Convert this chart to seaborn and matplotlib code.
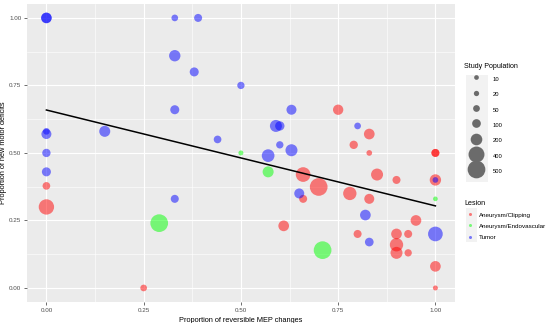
import matplotlib
matplotlib.use("Agg")
import matplotlib.pyplot as plt
from matplotlib.lines import Line2D
from matplotlib.patches import Rectangle
import numpy as np
import pandas as pd
import seaborn as sns

# ---------------- data ----------------
clip_x = [0.00, 0.00, 0.25, 0.75, 0.79, 0.83, 0.83, 1.00, 1.00, 0.66, 0.70, 0.78, 0.66,
          0.85, 0.90, 1.00, 0.83, 0.95, 0.61, 0.80, 0.90, 0.93, 0.90, 0.90, 0.93, 1.00, 1.00]
clip_y = [0.378, 0.30, 0.00, 0.66, 0.53, 0.57, 0.50, 0.50, 0.50, 0.42, 0.374, 0.35, 0.33,
          0.42, 0.40, 0.40, 0.33, 0.25, 0.23, 0.20, 0.20, 0.20, 0.16, 0.13, 0.13, 0.08, 0.00]
clip_n = [72, 370, 48, 152, 90, 165, 27, 81, 81, 336, 646, 272, 81,
          215, 81, 190, 141, 165, 165, 81, 165, 81, 272, 215, 63, 165, 15]

endo_x = [0.29, 0.50, 0.57, 0.71, 1.00]
endo_y = [0.24, 0.50, 0.43, 0.14, 0.33]
endo_n = [740, 15, 177, 560, 10]

tumor_x = [0.00, 0.00, 0.33, 0.39, 0.33, 0.38, 0.50, 0.33, 0.00, 0.00, 0.15, 0.44, 0.00, 0.57,
           0.00, 0.33, 0.63, 0.59, 0.60, 0.80, 0.60, 0.63, 0.65, 0.82, 1.00, 0.83, 1.00]
tumor_y = [1.00, 1.00, 1.00, 1.00, 0.86, 0.80, 0.75, 0.66, 0.57, 0.58, 0.58, 0.55, 0.50, 0.49,
           0.43, 0.33, 0.66, 0.60, 0.60, 0.60, 0.53, 0.51, 0.35, 0.27, 0.20, 0.17, 0.40]
tumor_n = [160, 160, 48, 81, 190, 110, 63, 110, 141, 48, 177, 72, 90, 244,
           110, 81, 141, 215, 120, 48, 63, 215, 141, 165, 336, 100, 27]

lesions = ["Aneurysm/Clipping", "Aneurysm/Endovascular", "Tumor"]
lesion_colors = ["#FF0000", "#00FF00", "#0000FF"]

fit_x = [0.0, 1.0]
fit_y = [0.659, 0.304]

size_breaks = [10, 20, 50, 100, 200, 400, 500]
axis_ticks = [0.00, 0.25, 0.50, 0.75, 1.00]
tick_labels = ["0.00", "0.25", "0.50", "0.75", "1.00"]

# ---------------- table ----------------
df = pd.DataFrame({
    "x": clip_x + endo_x + tumor_x,
    "y": clip_y + endo_y + tumor_y,
    "n": clip_n + endo_n + tumor_n,
    "lesion": [lesions[0]] * len(clip_x) + [lesions[1]] * len(endo_x) + [lesions[2]] * len(tumor_x),
})
fit_df = pd.DataFrame({"x": fit_x, "y": fit_y})

# ---------------- figure ----------------
plt.rcParams["font.family"] = ["Liberation Sans", "DejaVu Sans"]
fig = plt.figure(figsize=(5.5, 3.23), dpi=100)
ax = fig.add_axes([0.049, 0.065, 0.778, 0.923])
ax.set_facecolor("#EBEBEB")

SMIN, SMAX = 11.4, 162.3
palette = dict(zip(lesions, lesion_colors))
sns.scatterplot(data=df, x="x", y="y", hue="lesion", size="n", palette=palette,
                hue_order=lesions, sizes=(SMIN, SMAX), size_norm=(10, 500),
                alpha=0.5, linewidth=0, edgecolor="none", legend=False, ax=ax, zorder=3)
sns.lineplot(data=fit_df, x="x", y="y", color="black", linewidth=1.1, ax=ax, zorder=4)

ax.set_xlim(-0.05, 1.05)
ax.set_ylim(-0.052, 1.052)
ax.set_xticks(axis_ticks)
ax.set_xticklabels(tick_labels)
ax.set_yticks(axis_ticks)
ax.set_yticklabels(tick_labels)
minor = [-0.125 + 0.25 * i for i in range(1, 5)]
ax.set_xticks(minor, minor=True)
ax.set_yticks(minor, minor=True)
ax.grid(which="major", color="white", linewidth=0.8, zorder=0)
ax.grid(which="minor", color="white", linewidth=0.4, zorder=0)
ax.set_axisbelow(True)
for s in ax.spines.values():
    s.set_visible(False)
ax.tick_params(which="major", length=2, width=0.5, color="#333333",
               labelsize=4.5, labelcolor="#4D4D4D", pad=2)
ax.tick_params(which="minor", length=0)
ax.set_xlabel("Proportion of reversible MEP changes", fontsize=5.3, color="black", labelpad=3)
ax.set_ylabel("Proportion of new motor deficits", fontsize=5.3, color="black")
ax.yaxis.set_label_coords(-0.047, 0.5)

# ---------------- legends ----------------
# key backgrounds (ggplot grey95)
fig.patches.append(Rectangle((466 / 550, 1 - 182 / 323), 22 / 550, 107 / 323,
                             transform=fig.transFigure, facecolor="#F2F2F2",
                             edgecolor="none", zorder=0))
fig.patches.append(Rectangle((466 / 550, 1 - 242 / 323), 11 / 550, 34 / 323,
                             transform=fig.transFigure, facecolor="#F2F2F2",
                             edgecolor="none", zorder=0))

def s_of(n):
    return SMIN + (SMAX - SMIN) * (n - 10) / (500 - 10)

size_handles = [Line2D([], [], linestyle="", marker="o", markersize=np.sqrt(s_of(b)),
                       markerfacecolor="#6B6B6B", markeredgewidth=0) for b in size_breaks]
leg1 = fig.legend(size_handles, [str(b) for b in size_breaks], title="Study Population",
                  loc="upper left", bbox_to_anchor=(464 / 550, 1 - 63 / 323),
                  frameon=False, fontsize=4.2, title_fontsize=5.1, alignment="left",
                  borderpad=0, handlelength=4.2, handleheight=2.7, labelspacing=0.62,
                  handletextpad=0.7, borderaxespad=0)

col_handles = [Line2D([], [], linestyle="", marker="o", markersize=2.2, markerfacecolor=c,
                      alpha=0.5, markeredgewidth=0) for c in lesion_colors]
leg2 = fig.legend(col_handles, lesions, title="Lesion",
                  loc="upper left", bbox_to_anchor=(464 / 550, 1 - 200 / 323),
                  frameon=False, fontsize=4.5, title_fontsize=5.1, alignment="left",
                  borderpad=0, handlelength=1.9, handleheight=1.2, labelspacing=0.75,
                  handletextpad=0.55, borderaxespad=0)

fig.savefig("out.png", dpi=100)
